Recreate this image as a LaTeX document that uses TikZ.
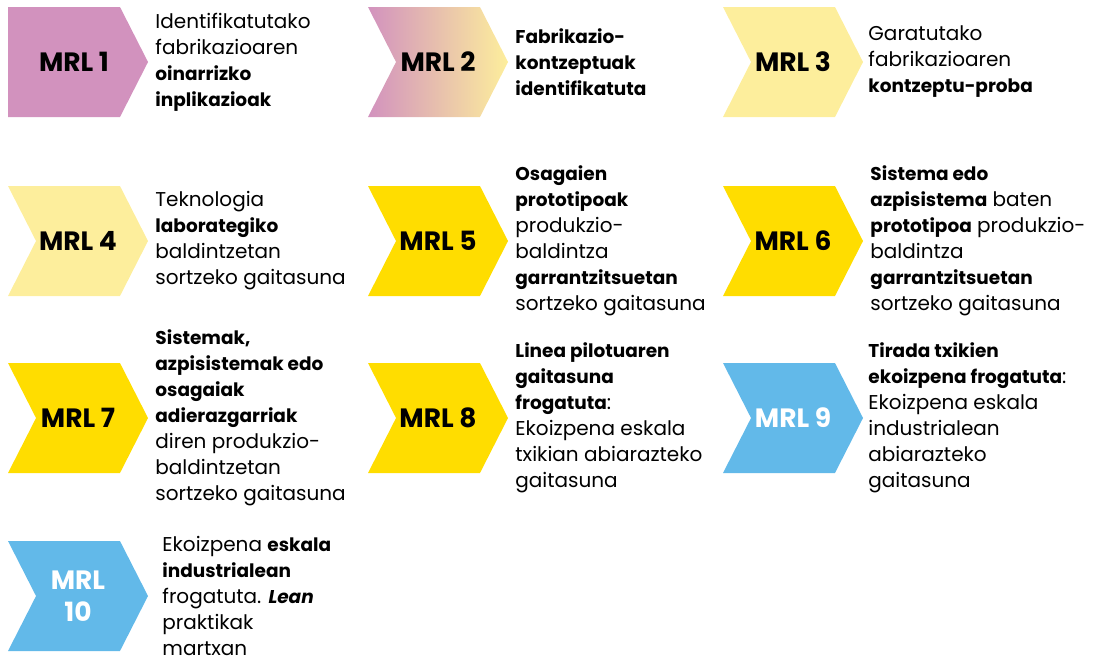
\documentclass[tikz,border=0pt]{standalone}
\usepackage{fontspec}
\setmainfont{Poppins}
\usetikzlibrary{positioning, shapes.symbols}
\definecolor{mrlPink}{HTML}{D292BE}
\definecolor{mrlPale}{HTML}{FDEE9C}
\definecolor{mrlGold}{HTML}{FFDD00}
\definecolor{mrlBlue}{HTML}{62B9E9}
\newcommand{\kw}[1]{{\fontsize{18.5}{26}\selectfont\textbf{#1}}}
\tikzset{
  chev/.style     ={signal, signal to=east, signal from=west,
                    signal pointer angle=126, minimum width=140pt,
                    minimum height=110pt, inner sep=0pt, align=center,
                    font=\bfseries\fontsize{26.5}{32}\selectfont},
  chev-first/.style={chev, signal from=nowhere},
  desc/.style     ={anchor=west, inner sep=0pt, align=left,
                    font=\fontsize{20}{26}\selectfont},
}
\begin{document}
\begin{tikzpicture}[x=1pt, y=-1pt]
\useasboundingbox (0,0) rectangle (1099,656);

% chevrons
\node[chev-first, fill=mrlPink] (m1) at (64, 62) {\hspace*{20pt}MRL 1};
\node[chev, left color=mrlPink, right color=mrlPale] (m2) at (438, 62) {MRL 2};
\foreach \n/\x/\y/\col/\txt in {3/793/62/mrlPale/black, 4/78/241/mrlPale/black,
    5/438/241/mrlGold/black, 6/793/241/mrlGold/black,
    7/78/418/mrlGold/black, 8/438/418/mrlGold/black,
    9/793/418/mrlBlue/white} {
  \node[chev, fill=\col, text=\txt] (m\n) at (\x, \y) {MRL \n};
}
\node[chev, fill=mrlBlue, text=white] (m10) at (78, 596) {MRL\\10};

% descriptions
\node[desc, right=7pt of m1.east] (d1)
  {Identifikatutako\\fabrikazioaren\\\kw{oinarrizko}\\\kw{inplikazioak}};
\node[desc, right=7pt of m2.east] (d2)
  {\kw{Fabrikazio-}\\\kw{kontzeptuak}\\\kw{identifikatuta}};
\node[desc, right=5pt of m3.east] (d3)
  {Garatutako\\fabrikazioaren\\\kw{kontzeptu-proba}};
\node[desc, right=7pt of m4.east] (d4)
  {Teknologia\\\kw{laborategiko}\\baldintzetan\\sortzeko gaitasuna};
\node[desc, right=7pt of m5.east] (d5)
  {\kw{Osagaien}\\\kw{prototipoak}\\produkzio-\\baldintza\\
   \kw{garrantzitsuetan}\\sortzeko gaitasuna};
\node[desc, right=7pt of m6.east] (d6)
  {\kw{Sistema edo}\\\kw{azpisistema} baten\\\kw{prototipoa} produkzio-\\
   baldintza\\\kw{garrantzitsuetan}\\sortzeko gaitasuna};
\node[desc, right=7pt of m7.east] (d7)
  {\kw{Sistemak,}\\\kw{azpisistemak edo}\\\kw{osagaiak}\\
   \kw{adierazgarriak}\\diren produkzio-\\baldintzetan\\sortzeko gaitasuna};
\node[desc, right=7pt of m8.east] (d8)
  {\kw{Linea pilotuaren}\\\kw{gaitasuna}\\\kw{frogatuta}:\\
   Ekoizpena eskala\\txikian abiarazteko\\gaitasuna};
\node[desc, right=5pt of m9.east] (d9)
  {\kw{Tirada txikien}\\\kw{ekoizpena frogatuta}:\\Ekoizpena eskala\\
   industrialean\\abiarazteko\\gaitasuna};
\node[desc, right=14pt of m10.east] (d10)
  {Ekoizpena \kw{eskala}\\\kw{industrialean}\\frogatuta. \kw{\textit{Lean}}\\
   praktikak\\martxan};

\end{tikzpicture}
\end{document}
